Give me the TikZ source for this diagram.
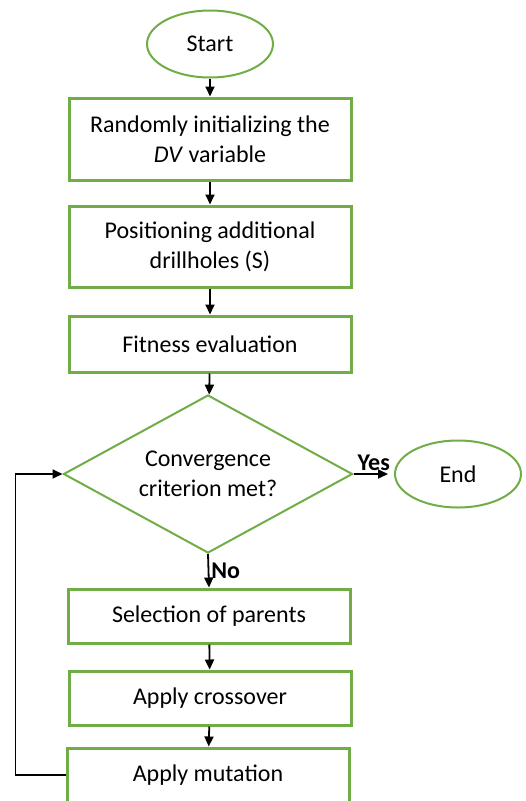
\documentclass[tikz,border=0pt]{standalone}
\usepackage{fontspec}
\setmainfont{Carlito}
\usetikzlibrary{shapes.geometric,arrows.meta,positioning}
\definecolor{boxgreen}{HTML}{70AD47}
\begin{document}
\begin{tikzpicture}[
    x=1pt, y=1pt,
    txt/.style={font=\fontsize{24}{30}\selectfont},
    stepbox/.style={txt, draw=boxgreen, line width=3pt, minimum width=282pt, align=center, inner sep=0pt},
    term/.style={txt, ellipse, draw=boxgreen, line width=2pt, minimum width=126pt, minimum height=67pt, inner sep=0pt},
    decide/.style={txt, diamond, draw=boxgreen, line width=2pt, aspect=1.83, minimum width=289pt, minimum height=158pt, inner sep=0pt, align=center},
    arr/.style={-{Triangle[length=10pt,width=9pt]}, line width=1.8pt},
    lbl/.style={font=\fontsize{24}{30}\selectfont\bfseries, inner sep=2pt},
  ]
    \useasboundingbox (0,0) rectangle (526,-801);

    % --- Main column ---
    \node[term] (start) at (210,-44) {Start};
    \node[stepbox, minimum height=82pt] (init) at (210,-139) {Randomly initializing the\\\textit{DV} variable};
    \node[stepbox, minimum height=81pt] (place) at (210,-246.5) {Positioning additional\\drillholes (S)};
    \node[stepbox, minimum height=56pt] (fit) at (210,-344) {Fitness evaluation};
    \node[decide] (conv) at (208,-474) {Convergence\\criterion met?};
    \node[term] (finish) at (458,-474) {End};
    \node[stepbox, minimum height=54pt] (sel) at (209,-616) {Selection of parents};
    \node[stepbox, minimum height=54pt] (cross) at (210,-698) {Apply crossover};
    \node[stepbox, minimum height=54pt] (mut) at (208,-775) {Apply mutation};

    \draw[arr] (start) -- (init);
    \draw[arr] (init) -- (place);
    \draw[arr] (place) -- (fit);
    \draw[arr] (fit) -- (conv);
    \draw[arr, shorten >=6pt] (conv.east) -- (finish.west) node[lbl, midway, above] {Yes};
    \draw[arr] (conv.south) -- (sel.north) node[lbl, midway, right] {No};
    \draw[arr] (sel) -- (cross);
    \draw[arr] (cross) -- (mut);

    % Loop back: mutation -> left edge -> decision
    \draw[arr] (mut.west) -- ++(-50,0) |- (conv.west);
  \end{tikzpicture}
\end{document}
